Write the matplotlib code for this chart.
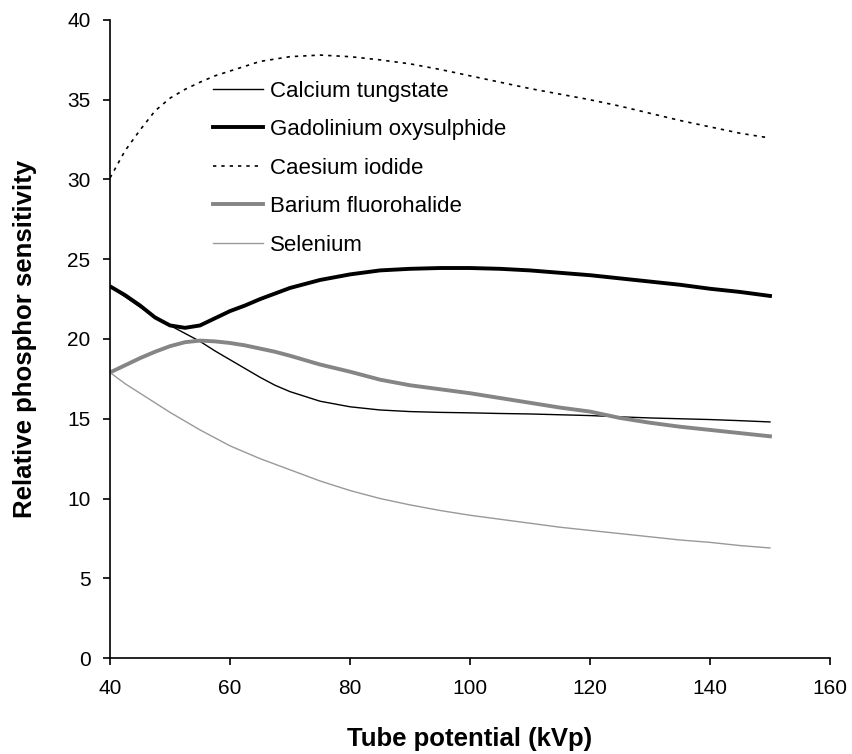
import matplotlib
matplotlib.use("Agg")
import matplotlib.pyplot as plt

# tube potential (kVp)
kvp = [40, 42.5, 45, 47.5, 50, 52.5, 55, 57.5, 60, 62.5, 65, 67.5, 70, 75, 80, 85, 90, 95, 100,
       105, 110, 115, 120, 125, 130, 135, 140, 145, 150]

calcium_tungstate = [23.3, 22.65, 22.0, 21.4, 20.85, 20.35, 19.85, 19.25, 18.7, 18.15, 17.6, 17.1, 16.7,
                     16.1, 15.75, 15.55, 15.45, 15.4, 15.37,
                     15.33, 15.3, 15.25, 15.2, 15.12, 15.05, 15.0, 14.95, 14.88, 14.8]
gadolinium_oxysulphide = [23.3, 22.75, 22.1, 21.35, 20.85, 20.7, 20.85, 21.3, 21.75, 22.1, 22.5, 22.85, 23.2,
                          23.7, 24.05, 24.3, 24.4, 24.45, 24.45,
                          24.4, 24.3, 24.15, 24.0, 23.8, 23.6, 23.4, 23.15, 22.95, 22.7]
caesium_iodide = [30.1, 31.8, 33.1, 34.3, 35.1, 35.65, 36.1, 36.5, 36.8, 37.1, 37.4, 37.55, 37.7,
                  37.8, 37.7, 37.5, 37.25, 36.9, 36.5,
                  36.1, 35.7, 35.35, 35.0, 34.6, 34.15, 33.7, 33.3, 32.9, 32.6]
barium_fluorohalide = [17.9, 18.35, 18.8, 19.2, 19.55, 19.8, 19.9, 19.85, 19.75, 19.6, 19.4, 19.2, 18.95,
                       18.4, 17.95, 17.45, 17.1, 16.85, 16.6,
                       16.3, 16.0, 15.7, 15.45, 15.05, 14.75, 14.5, 14.3, 14.1, 13.9]
selenium = [17.9, 17.2, 16.6, 16.0, 15.4, 14.85, 14.3, 13.8, 13.3, 12.9, 12.5, 12.15, 11.8,
            11.1, 10.5, 10.0, 9.6, 9.25, 8.95,
            8.7, 8.45, 8.2, 8.0, 7.8, 7.6, 7.4, 7.25, 7.05, 6.9]

plt.rcParams['font.family'] = ['Liberation Sans', 'DejaVu Sans']

fig = plt.figure(figsize=(8.53, 7.54), dpi=100)
ax = fig.add_axes([0.129, 0.1273, 0.844, 0.8462])

ax.plot(kvp, calcium_tungstate, color='black', lw=1.0, label='Calcium tungstate')
ax.plot(kvp, gadolinium_oxysulphide, color='black', lw=2.8, label='Gadolinium oxysulphide')
ax.plot(kvp, caesium_iodide, color='black', lw=1.2, linestyle=(0, (2, 3)), label='Caesium iodide')
ax.plot(kvp, barium_fluorohalide, color='#858585', lw=2.8, label='Barium fluorohalide')
ax.plot(kvp, selenium, color='#999999', lw=1.0, label='Selenium')

ax.set_xlim(40, 160)
ax.set_ylim(0, 40)
ax.set_xticks(range(40, 161, 20))
ax.set_yticks(range(0, 41, 5))

for s in ['top', 'right']:
    ax.spines[s].set_visible(False)
for s in ['left', 'bottom']:
    ax.spines[s].set_linewidth(1.2)
ax.tick_params(axis='both', direction='out', length=5, width=1.2, labelsize=15)
ax.tick_params(axis='x', pad=10)
ax.tick_params(axis='y', pad=9)

ax.set_xlabel('Tube potential (kVp)', fontsize=18.5, fontweight='bold', labelpad=21)
ax.set_ylabel('Relative phosphor sensitivity', fontsize=18.5, fontweight='bold', labelpad=22)

ax.legend(loc='upper left', bbox_to_anchor=(0.143, 0.905), frameon=False, fontsize=16,
          handlelength=2.25, handletextpad=0.3, labelspacing=0.79, borderaxespad=0,
          borderpad=0)

plt.savefig('out.png', dpi=100)
